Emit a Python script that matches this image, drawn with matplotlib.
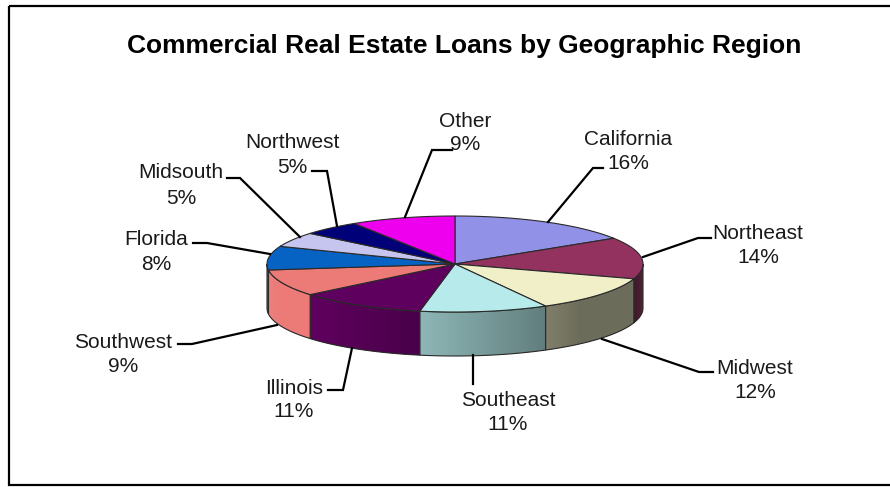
import numpy as np
import matplotlib
matplotlib.use("Agg")
import matplotlib.pyplot as plt
from matplotlib.patches import Polygon, Rectangle

plt.rcParams['font.family'] = ['Liberation Sans', 'DejaVu Sans']

# loan shares (percent), clockwise from 12 o'clock
regions = ['California', 'Northeast', 'Midwest', 'Southeast', 'Illinois',
           'Southwest', 'Florida', 'Midsouth', 'Northwest', 'Other']
shares = [16, 14, 12, 11, 11, 9, 8, 5, 5, 9]
colors = ['#9191e8', '#94325f', '#f1efc7', '#b7ebeb', '#5e005e',
          '#ec7b78', '#0763c3', '#c5c5ef', '#000078', '#ee00ee']

# label placement: (x, baseline of name, baseline of percent)
label_pos = [(628, 145, 169), (758, 239, 263), (755, 374, 398),
             (508, 406, 430), (294, 394, 417), (123, 348, 372),
             (156, 245, 270), (181, 178, 204), (292, 148, 173),
             (465, 127, 150)]
# leader lines in pixel coordinates
leaders = [[(603, 168), (593, 168), (548, 222)],
           [(711, 238), (698, 238), (643, 257)],
           [(713, 372), (699, 372), (602, 339)],
           [(473, 384), (473, 355)],
           [(328, 390), (343, 390), (352, 348)],
           [(178, 344), (192, 344), (277, 325)],
           [(193, 243), (207, 243), (270, 254)],
           [(227, 178), (240, 178), (300, 237)],
           [(312, 171), (327, 171), (337, 226)],
           [(452, 150), (432, 150), (405, 217)]]

W, H = 890, 487
cx, cy, a, b, depth = 455, 264, 188, 48, 44

fig = plt.figure(figsize=(W / 100, H / 100), dpi=100)
ax = fig.add_axes([0, 0, 1, 1])
ax.set_xlim(0, W)
ax.set_ylim(H, 0)
ax.axis('off')

ax.add_patch(Rectangle((9, 6), W, 479, fill=False, ec='black', lw=1.6))


def rim(t):
    r = np.radians(t)
    return cx + a * np.sin(r), cy - b * np.cos(r)


def shade(t):
    return float(np.clip(0.45 + 0.6 * (t - 138) / 97, 0.45, 1.0))


edges = np.concatenate([[0], np.cumsum(shares)]) * 3.6

# side walls of the front half, drawn as overlapping thin strips
for i, c in enumerate(colors):
    t0, t1 = max(edges[i], 90), min(edges[i + 1], 270)
    if t1 <= t0:
        continue
    base = np.array(matplotlib.colors.to_rgb(c))
    ts = np.linspace(t0, t1, int((t1 - t0) * 2) + 2)
    for u, v in zip(ts[:-1], ts[1:]):
        v2 = min(v + 0.6, t1)
        (x0, y0), (x1, y1) = rim(u), rim(v2)
        col = base * shade((u + v) / 2)
        ax.add_patch(Polygon([(x0, y0), (x1, y1), (x1, y1 + depth), (x0, y0 + depth)],
                             closed=True, fc=col, ec='none', lw=0))
    xs, ys = rim(ts)
    outline = list(zip(xs, ys)) + list(zip(xs[::-1], ys[::-1] + depth))
    ax.add_patch(Polygon(outline, closed=True, fill=False, ec='#2a2a2a', lw=0.8))

# top faces
for i, c in enumerate(colors):
    ts = np.linspace(edges[i], edges[i + 1], 80)
    xs, ys = rim(ts)
    pts = [(cx, cy)] + list(zip(xs, ys))
    ax.add_patch(Polygon(pts, closed=True, fc=c, ec='#2a2a2a', lw=0.8))

ax.text(464, 53, 'Commercial Real Estate Loans by Geographic Region',
        ha='center', va='baseline', fontsize=19, fontweight='bold')

for name, pct, (x, y1, y2), pts in zip(regions, shares, label_pos, leaders):
    ax.text(x, y1, name, ha='center', va='baseline', fontsize=15, color='#1a1a1a')
    ax.text(x, y2, f'{pct}%', ha='center', va='baseline', fontsize=15, color='#1a1a1a')
    px, py = zip(*pts)
    ax.plot(px, py, color='black', lw=1.6, solid_joinstyle='miter')

fig.savefig('out.png', dpi=100)
